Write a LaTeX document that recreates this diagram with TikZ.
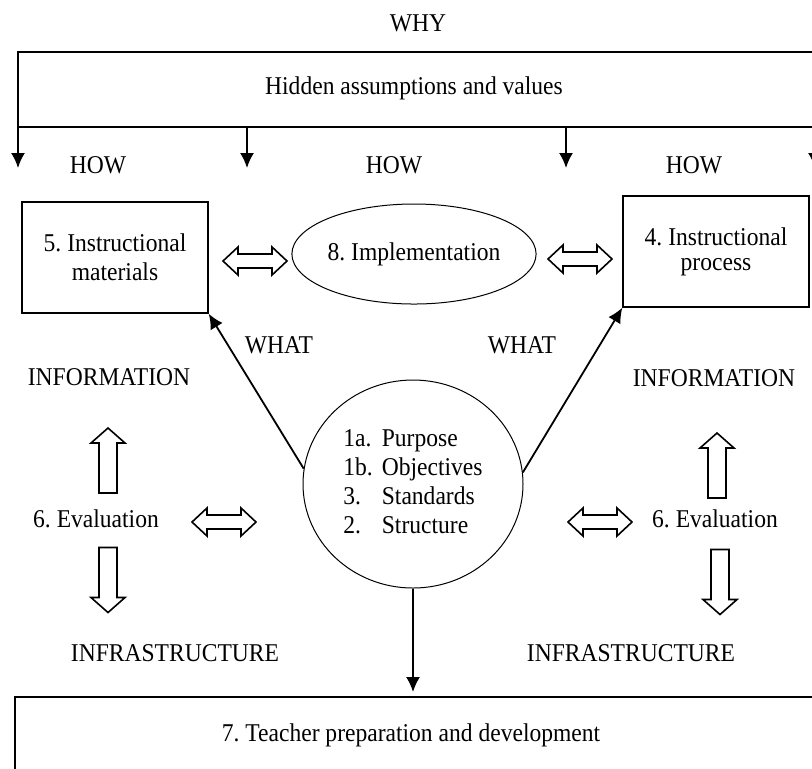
\documentclass[tikz,border=0pt]{standalone}
\usepackage{fontspec}
\setmainfont[FakeStretch=0.92]{Liberation Serif}
\usetikzlibrary{arrows.meta,shapes.geometric}
\frenchspacing

\tikzset{
  arr/.style={line width=0.9pt, -{Latex[length=7.5pt,width=7pt]}},
  boxnode/.style={draw, line width=0.7pt, minimum width=93pt, minimum height=55.5pt, align=center},
  ovalnode/.style={draw, ellipse, line width=0.5pt, inner sep=0pt},
  blockup/.pic={\draw[line width=0.8pt] (0,-32.5) -- (17,-17.5) -- (9,-17.5) -- (9,32.5)
      -- (-9,32.5) -- (-9,-17.5) -- (-17,-17.5) -- cycle;},
  blockboth/.pic={\draw[line width=0.8pt] (-32,0) -- (-17,-14) -- (-17,-7) -- (17,-7) -- (17,-14)
      -- (32,0) -- (17,14) -- (17,7) -- (-17,7) -- (-17,14) -- cycle;}
}

\begin{document}
\begin{tikzpicture}[x=0.5pt,y=-0.5pt,font=\fontsize{12.8pt}{14.5pt}\selectfont]
    \useasboundingbox (0,0) rectangle (812,768);
    \clip (0,0) rectangle (812,768);
    % why / how band
    \node (why) at (418,23) {WHY};
    \draw [line width=0.6pt] (830,52) -- (18,52) -- (18,127);
    \draw [line width=1.1pt] (18,127) -- (830,127);
    \node (hidden) at (414,88) {Hidden assumptions and values};
    \foreach \x/\n in {18/a,247/b,566/c,815/d} {
        \coordinate (s\n) at (\x,127);
        \coordinate (t\n) at (\x,168);
        \draw [arr] (s\n) -- (t\n);
    }
    \node (howl) at (98,165) {HOW};
    \node (howm) at (394,165) {HOW};
    \node (howr) at (694,165) {HOW};
    % materials, implementation, process
    \node [boxnode] (mater) at (115,257.5) {5. Instructional\\materials};
    \node [ovalnode, minimum width=121pt, minimum height=50pt] (impl) at (414,254) {8. Implementation};
    \node [boxnode] (proc) at (716,251.5) {4. Instructional\\[-2pt]process};
    \pic at (255,261) {blockboth};
    \pic at (580,259) {blockboth};
    % core
    \node [ovalnode, minimum width=110pt, minimum height=104pt] (core) at (413,484)
        {\begin{tabular}{@{}l@{\hspace{4.5pt}}l@{}}
         1a. & Purpose\\
         1b. & Objectives\\
         3.  & Standards\\
         2.  & Structure
         \end{tabular}};
    \draw [arr] (core.172) -- (mater.south east);
    \draw [arr] (core.6) -- (proc.south west);
    \node (whatl) at (279,345) {WHAT};
    \node (whatr) at (522,345) {WHAT};
    % evaluation, left
    \node (infol) at (109,377) {INFORMATION};
    \pic at (108,460.5) {blockup};
    \node (evall) at (96,519) {6. Evaluation};
    \pic [rotate=180] at (108,580) {blockup};
    \pic at (224,522) {blockboth};
    \node (infral) at (175,653) {INFRASTRUCTURE};
    % evaluation, right
    \node (infor) at (714,378) {INFORMATION};
    \pic at (717,465.5) {blockup};
    \node (evalr) at (715,519) {6. Evaluation};
    \pic [rotate=180] at (720,582) {blockup};
    \pic at (600,522) {blockboth};
    \node (infrar) at (631,653) {INFRASTRUCTURE};
    % teachers
    \coordinate (tp) at (413,692);
    \draw [arr] (core.south) -- (tp);
    \draw [line width=0.7pt] (15,800) -- (15,697) -- (830,697);
    \node (teach) at (411,735) {7. Teacher preparation and development};
\end{tikzpicture}
\end{document}
